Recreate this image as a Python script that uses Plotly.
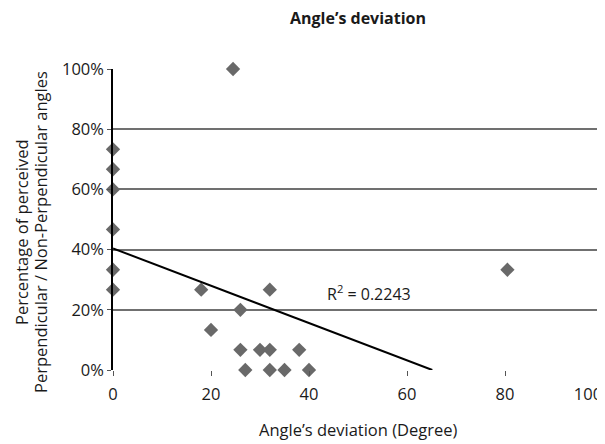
import plotly.graph_objects as go

# Data
deviation = [0, 0, 0, 0, 0, 0, 24.5, 18, 20, 26, 32, 26, 30, 32, 38, 27, 32, 35, 40, 80.5]
percentage = [73.3, 66.7, 60, 46.7, 33.3, 26.7, 100, 26.7, 13.3, 20, 26.7,
              6.7, 6.7, 6.7, 6.7, 0, 0, 0, 0, 33.3]

trend_intercept = 40.4
trend_slope = -0.62
r2_label = "R<sup>2</sup> = 0.2243"

x_ticks = [0, 20, 40, 60, 80, 100]
x_tick_labels = ["0", "20", "40", "60", "80", "100"]
y_ticks = [0, 20, 40, 60, 80, 100]
y_tick_labels = ["0%", "20%", "40%", "60%", "80%", "100%"]
y_title_lines = ["Percentage of perceived", "Perpendicular / Non-Perpendicular angles"]

x_end = -trend_intercept / trend_slope
trend_x = [0, x_end]
trend_y = [trend_intercept + trend_slope * v for v in trend_x]

# last x label is pulled inward slightly (as in the reference) with trailing spaces
x_tick_text = x_tick_labels[:-1] + [x_tick_labels[-1] + "\u00a0" * 7]

FONT = "Open Sans"
PLOT_H = 301
PLOT_W = 490


def py(window_y):
    return (370 - window_y) / PLOT_H


def px(window_x):
    return (window_x - 113) / PLOT_W


fig = go.Figure()
fig.add_trace(go.Scatter(
    x=deviation, y=percentage, mode="markers",
    marker=dict(symbol="diamond", size=11, color="#696969", line=dict(width=0)),
    cliponaxis=False, showlegend=False,
))
fig.add_trace(go.Scatter(
    x=trend_x, y=trend_y, mode="lines",
    line=dict(color="black", width=2),
    cliponaxis=False, showlegend=False,
))

annotations = [
    dict(text="<b>Angle’s deviation</b>", xref="paper", yref="paper",
         x=0.5, y=py(18), xanchor="center", yanchor="middle",
         showarrow=False, font=dict(size=16, family=FONT, color="#1a1a1a")),
    dict(text="Angle’s deviation (Degree)", xref="paper", yref="paper",
         x=0.5, y=py(429), xanchor="center", yanchor="middle",
         showarrow=False, font=dict(size=16.5, family=FONT)),
    dict(text=r2_label, xref="x", yref="y", x=43.3, y=25.6,
         xanchor="left", yanchor="middle", showarrow=False,
         font=dict(size=16, family=FONT)),
]
for line_text, line_x in zip(y_title_lines, [21, 40]):
    annotations.append(dict(
        text=line_text, xref="paper", yref="paper", x=px(line_x), y=py(232),
        xanchor="center", yanchor="middle", textangle=-90,
        showarrow=False, font=dict(size=16.5, family=FONT)))

fig.update_layout(
    width=597, height=436,
    margin=dict(l=105, r=2, t=61, b=74, autoexpand=False),
    paper_bgcolor="white", plot_bgcolor="white",
    font=dict(family=FONT, color="#1a1a1a", size=16),
    xaxis=dict(
        range=[0, 100], tickvals=x_ticks, ticktext=x_tick_text,
        ticks="outside", ticklen=5,
        tickcolor="#555555", tickwidth=1, showgrid=False, zeroline=False,
        showline=False, tickfont=dict(size=16.5, family=FONT),
        ticklabelstandoff=4, ticklabeloverflow="allow", automargin=False,
    ),
    yaxis=dict(
        range=[0, 100], tickvals=y_ticks, ticktext=y_tick_labels,
        ticks="outside", ticklen=4, tickcolor="#555555", tickwidth=1,
        showgrid=True, gridcolor="#707070", gridwidth=1.5, zeroline=False,
        showline=True, linecolor="black", linewidth=1.5,
        tickfont=dict(size=16.5, family=FONT), automargin=False,
    ),
    annotations=annotations,
)

fig.write_html("out.html")
